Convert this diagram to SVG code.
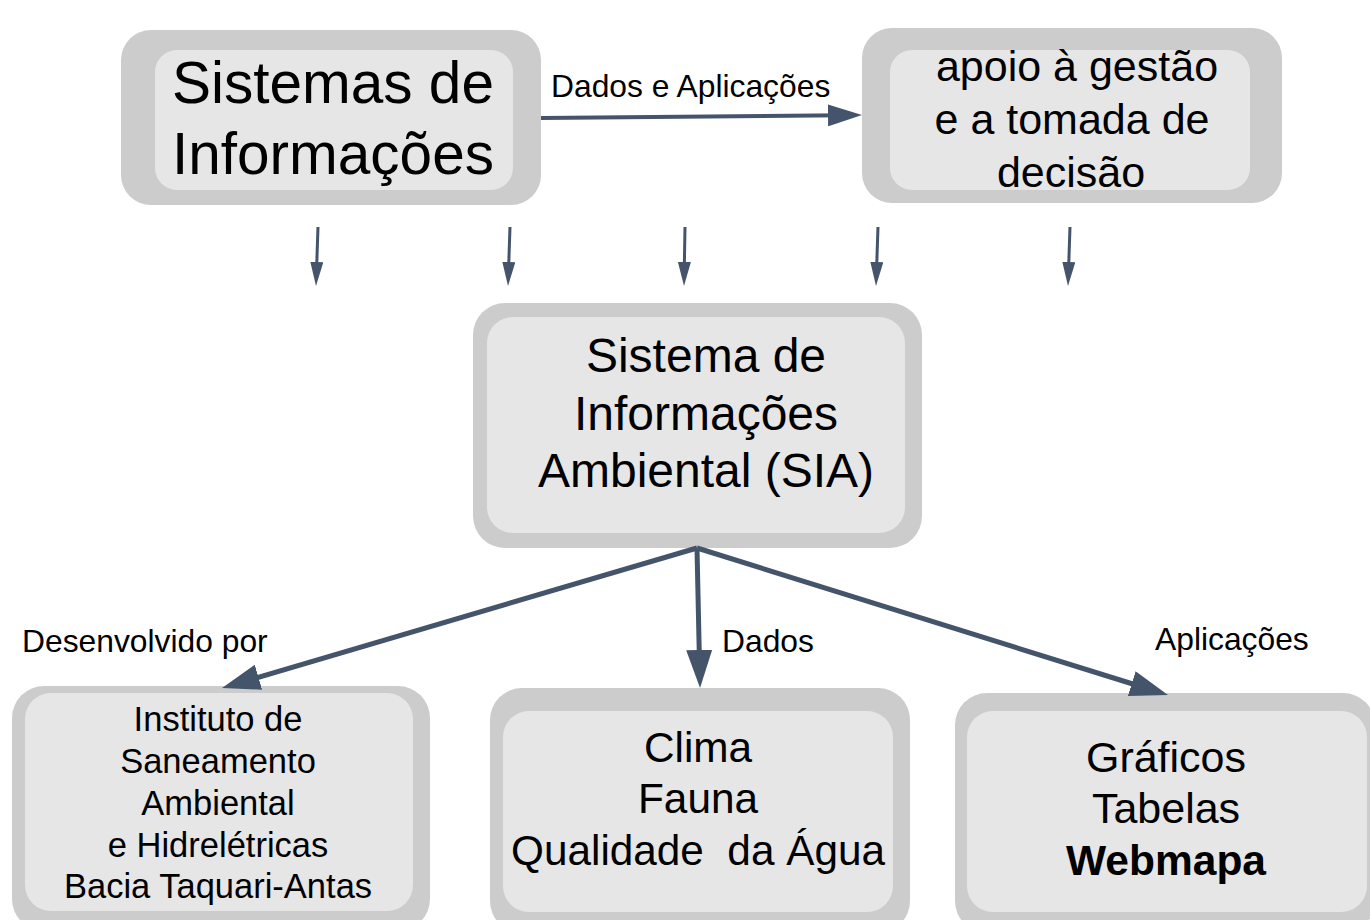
<svg xmlns="http://www.w3.org/2000/svg" width="1370" height="920" viewBox="0 0 1370 920">
<style>
  .outer { fill: #cccccc; }
  .inner { fill: #e6e6e6; }
  text { font-family: "Liberation Sans", Arial, sans-serif; fill: #000; }
  .c { text-anchor: middle; }
  .lbl { font-size: 31.8px; }
  .conn { stroke: #44546a; fill: none; }
</style>
<defs>
  <marker id="headL" markerUnits="userSpaceOnUse" viewBox="0 0 38 26" refX="18" refY="13" markerWidth="38" markerHeight="26" orient="auto">
    <path d="M0,0 L38,13 L0,26 z" fill="#44546a"/>
  </marker>
  <marker id="headM" markerUnits="userSpaceOnUse" viewBox="0 0 34 22" refX="16" refY="11" markerWidth="34" markerHeight="22" orient="auto">
    <path d="M0,0 L34,11 L0,22 z" fill="#44546a"/>
  </marker>
  <marker id="headS" markerUnits="userSpaceOnUse" viewBox="0 0 24 13" refX="12" refY="6.5" markerWidth="24" markerHeight="13" orient="auto">
    <path d="M0,0 L24,6.5 L0,13 z" fill="#44546a"/>
  </marker>
</defs>
<rect width="1370" height="920" fill="#ffffff"/>

<g id="node-sistemas">
  <rect class="outer" x="121" y="30" width="420" height="175" rx="30"/>
  <rect class="inner" x="155" y="50" width="358" height="140" rx="22"/>
  <text class="c" x="333" y="103" font-size="58.5">Sistemas de</text>
  <text class="c" x="333" y="174" font-size="58.5">Informações</text>
</g>

<g id="node-apoio">
  <rect class="outer" x="862" y="28" width="420" height="175" rx="30"/>
  <rect class="inner" x="890" y="50" width="360" height="140" rx="22"/>
  <text class="c" x="1077" y="81" font-size="43">apoio à gestão</text>
  <text class="c" x="1072" y="134" font-size="43">e a tomada de</text>
  <text class="c" x="1071" y="187" font-size="43">decisão</text>
</g>

<g id="node-sia">
  <rect class="outer" x="473" y="303" width="449" height="245" rx="32"/>
  <rect class="inner" x="487" y="317" width="418" height="216" rx="26"/>
  <text class="c" x="706" y="372" font-size="48">Sistema de</text>
  <text class="c" x="706" y="430" font-size="48">Informações</text>
  <text class="c" x="706" y="487" font-size="48">Ambiental (SIA)</text>
</g>

<g id="node-instituto">
  <rect class="outer" x="12" y="686" width="418" height="245" rx="32"/>
  <rect class="inner" x="25" y="693" width="388" height="218" rx="26"/>
  <text class="c" x="218" y="731" font-size="34.5">Instituto de</text>
  <text class="c" x="218" y="773" font-size="34.5">Saneamento</text>
  <text class="c" x="218" y="815" font-size="34.5">Ambiental</text>
  <text class="c" x="218" y="857" font-size="34.5">e Hidrelétricas</text>
  <text class="c" x="218" y="898" font-size="34.5">Bacia Taquari-Antas</text>
</g>

<g id="node-dados">
  <rect class="outer" x="490" y="688" width="420" height="245" rx="32"/>
  <rect class="inner" x="503" y="711" width="390" height="201" rx="26"/>
  <text class="c" x="698" y="762" font-size="42.3">Clima</text>
  <text class="c" x="698" y="813" font-size="42.3">Fauna</text>
  <text class="c" x="698" y="865" font-size="42.3" xml:space="preserve">Qualidade  da Água</text>
</g>

<g id="node-aplicacoes">
  <rect class="outer" x="955" y="693" width="420" height="240" rx="32"/>
  <rect class="inner" x="967" y="711" width="400" height="201" rx="26"/>
  <text class="c" x="1166" y="772" font-size="43">Gráficos</text>
  <text class="c" x="1166" y="823" font-size="43">Tabelas</text>
  <text class="c" x="1166" y="875" font-size="42.5" font-weight="bold">Webmapa</text>
</g>

<g id="connectors">
  <line class="conn" x1="541" y1="118" x2="844" y2="115.2" stroke-width="4" marker-end="url(#headM)"/>
  <text class="lbl" x="551" y="97">Dados e Aplicações</text>

  <line class="conn" x1="318" y1="227" x2="316.4" y2="274" stroke-width="3" marker-end="url(#headS)"/>
  <line class="conn" x1="510" y1="227" x2="508.4" y2="274" stroke-width="3" marker-end="url(#headS)"/>
  <line class="conn" x1="685" y1="227" x2="684.2" y2="274" stroke-width="3" marker-end="url(#headS)"/>
  <line class="conn" x1="878" y1="227" x2="876.4" y2="274" stroke-width="3" marker-end="url(#headS)"/>
  <line class="conn" x1="1070" y1="227" x2="1068.4" y2="274" stroke-width="3" marker-end="url(#headS)"/>

  <line class="conn" x1="697" y1="548" x2="241.2" y2="682.3" stroke-width="5" marker-end="url(#headL)"/>
  <line class="conn" x1="697" y1="548" x2="699.6" y2="668" stroke-width="5" marker-end="url(#headL)"/>
  <line class="conn" x1="697" y1="548" x2="1148.9" y2="689" stroke-width="5" marker-end="url(#headL)"/>

  <text class="lbl" x="22" y="652">Desenvolvido por</text>
  <text class="lbl" x="722" y="652">Dados</text>
  <text class="lbl" x="1155" y="650">Aplicações</text>
</g>
</svg>
